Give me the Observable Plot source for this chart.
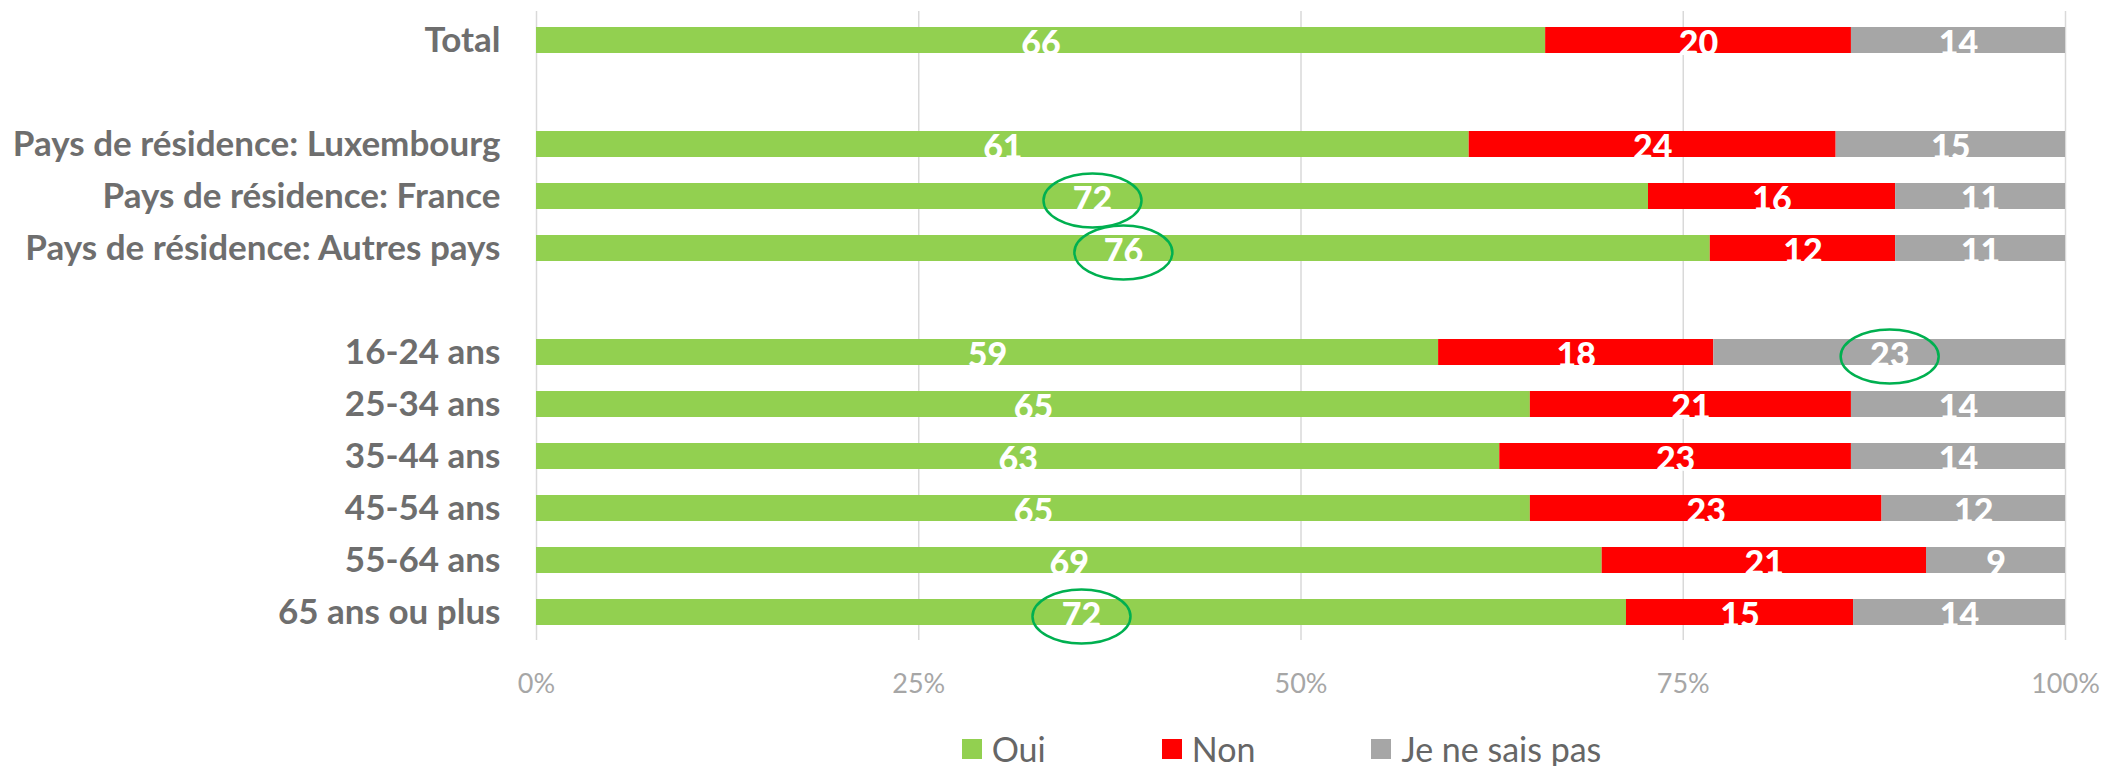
<!DOCTYPE html>
<html>
<head>
<meta charset="utf-8">
<script src="https://cdn.jsdelivr.net/npm/d3@7"></script>
<script src="https://cdn.jsdelivr.net/npm/@observablehq/plot@0.6"></script>
<style>
  html, body { margin: 0; padding: 0; background: #fff; }
  #chart svg { display: block; }
  .legend { display: flex; justify-content: center; gap: 116px; margin-left: 517px; width: 1529px; margin-top: 20px;
            font-family: Lato, sans-serif; font-size: 34px; color: #666; line-height: 1; }
  .legend .item { display: flex; align-items: center; }
  .legend .sw { width: 20px; height: 20px; margin-right: 10px; display: inline-block; }
</style>
</head>
<body>
<div id="chart"></div>
<script>
// ---- data ----
const rows = ["Total", " ", "Pays de résidence: Luxembourg", "Pays de résidence: France", "Pays de résidence: Autres pays", "  ",
  "16-24 ans", "25-34 ans", "35-44 ans", "45-54 ans", "55-64 ans", "65 ans ou plus"];
const categories = ["Total", "Pays de résidence: Luxembourg", "Pays de résidence: France", "Pays de résidence: Autres pays",
  "16-24 ans", "25-34 ans", "35-44 ans", "45-54 ans", "55-64 ans", "65 ans ou plus"];
const answers = ["Oui", "Non", "Je ne sais pas"];
const oui = [66, 61, 72, 76, 59, 65, 63, 65, 69, 72];
const non = [20, 24, 16, 12, 18, 21, 23, 23, 21, 15];
const nsp = [14, 15, 11, 11, 23, 14, 14, 12, 9, 14];
const colors = ["#92d050", "#ff0000", "#a6a6a6"];
const circled = [["Pays de résidence: France", "Oui"], ["Pays de résidence: Autres pays", "Oui"],
  ["16-24 ans", "Je ne sais pas"], ["65 ans ou plus", "Oui"]];
const xTicks = [0, 0.25, 0.5, 0.75, 1];

// ---- table ----
const series = [oui, non, nsp];
const data = [];
categories.forEach((c, i) => answers.forEach((a, j) => {
  data.push({group: c, answer: a, value: series[j][i],
    circled: circled.some(([g, s]) => g === c && s === a) ? 1 : 0});
}));

const ellipse = {
  draw(ctx) {
    const rx = 49, ry = 27, k = 0.5523;
    ctx.moveTo(rx, 0);
    ctx.bezierCurveTo(rx, ry * k, rx * k, ry, 0, ry);
    ctx.bezierCurveTo(-rx * k, ry, -rx, ry * k, -rx, 0);
    ctx.bezierCurveTo(-rx, -ry * k, -rx * k, -ry, 0, -ry);
    ctx.bezierCurveTo(rx * k, -ry, rx, -ry * k, rx, 0);
    ctx.closePath();
  }
};

const stackOpts = {x: "value", y: "group", z: "answer", offset: "normalize", order: answers};

const chart = Plot.plot({
  width: 2108,
  height: 712,
  marginTop: 11,
  marginBottom: 72,
  marginLeft: 536,
  marginRight: 43,
  style: {fontFamily: "Lato, sans-serif", background: "#fff"},
  x: {domain: [0, 1], ticks: xTicks, tickFormat: d3.format(".0%")},
  y: {domain: rows, paddingInner: 0.5, paddingOuter: 0.23},
  color: {domain: answers, range: colors},
  opacity: {domain: [0, 1], range: [0, 1]},
  marks: [
    Plot.gridX(xTicks, {stroke: "#d9d9d9", strokeOpacity: 1, strokeWidth: 1.5}),
    Plot.barX(data, Plot.stackX({...stackOpts, fill: "answer"})),
    Plot.text(data, Plot.stackX({...stackOpts, text: "value", fill: "white", fontWeight: 900, fontSize: 34, dy: 4})),
    Plot.dot(data, Plot.stackX({...stackOpts, symbol: ellipse, fill: "none", stroke: "#00b050",
      strokeOpacity: "circled", strokeWidth: 2.5, dy: 4})),
    Plot.axisY({tickSize: 0, tickPadding: 36, fontSize: 35, fontWeight: "bold", color: "#6e6e6e", label: null}),
    Plot.axisX(xTicks, {tickSize: 0, tickPadding: 33, fontSize: 27, color: "#a6a6a6", label: null, tickFormat: d3.format(".0%")})
  ]
});
document.getElementById("chart").appendChild(chart);

// legend
const legend = document.createElement("div");
legend.className = "legend";
answers.forEach((a, i) => {
  const it = document.createElement("div");
  it.className = "item";
  const sw = document.createElement("span");
  sw.className = "sw";
  sw.style.background = colors[i];
  it.appendChild(sw);
  it.appendChild(document.createTextNode(a));
  legend.appendChild(it);
});
document.body.appendChild(legend);
</script>
</body>
</html>
